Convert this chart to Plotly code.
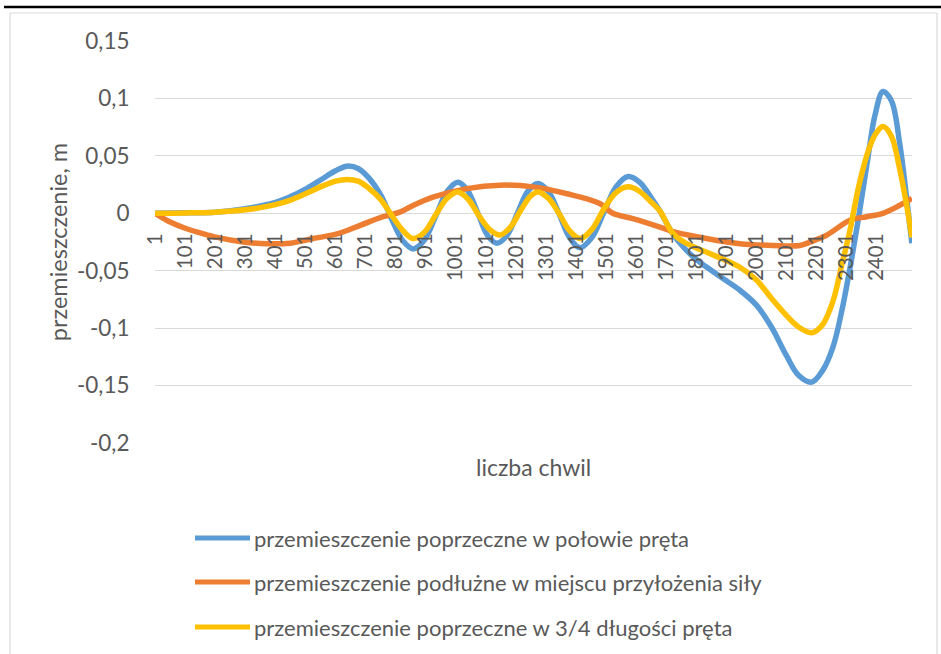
import plotly.graph_objects as go

# canvas and plot-area geometry (pixels)
W, H = 941, 654
PL, PR, PT, PB = 155, 912, 41, 443

# --- data -----------------------------------------------------------------
nazwy = [
    "przemieszczenie poprzeczne w połowie pręta",
    "przemieszczenie podłużne w miejscu przyłożenia siły",
    "przemieszczenie poprzeczne w 3/4 długości pręta",
]
kolory = ["#5B9BD5", "#ED7D31", "#FFC000"]

# transverse displacement at mid-length
chwile_polowa = [1, 101, 201, 301, 401, 451, 501, 551, 601, 639, 676, 711,
                 751, 791, 825, 859, 895, 935, 972, 1008, 1040, 1073, 1106,
                 1138, 1172, 1206, 1240, 1274, 1309, 1344, 1379, 1414, 1454,
                 1494, 1534, 1574, 1613, 1650, 1680, 1723, 1760, 1800, 1836,
                 1891, 1946, 2001, 2051, 2101, 2141, 2185, 2221, 2255, 2285,
                 2312, 2340, 2370, 2395, 2422, 2450, 2478, 2500, 2518]
polowa = [0.0, 0.0005, 0.001, 0.004, 0.0095, 0.0145, 0.021, 0.029, 0.037,
          0.041, 0.039, 0.031, 0.016, -0.007, -0.024, -0.031, -0.024, -0.002,
          0.019, 0.027, 0.020, 0.001, -0.019, -0.026, -0.019, 0.000, 0.019,
          0.026, 0.019, 0.000, -0.021, -0.030, -0.021, 0.001, 0.023, 0.032,
          0.027, 0.014, 0.002, -0.018, -0.030, -0.040, -0.047, -0.057, -0.067,
          -0.080, -0.099, -0.124, -0.141, -0.147, -0.137, -0.117, -0.085,
          -0.048, -0.005, 0.045, 0.085, 0.106, 0.098, 0.060, 0.015, -0.026]

# longitudinal displacement at the load point
chwile_sila = [1, 51, 101, 151, 207, 294, 373, 450, 526, 606, 683, 759, 815,
               849, 925, 1038, 1148, 1258, 1371, 1480, 1523, 1590, 1680, 1723,
               1836, 1946, 2055, 2145, 2180, 2235, 2312, 2368, 2422, 2478, 2518]
sila = [0.0, -0.0076, -0.013, -0.017, -0.021, -0.025, -0.0265, -0.026,
        -0.022, -0.018, -0.0105, -0.003, 0.001, 0.0055, 0.014, 0.0215,
        0.0245, 0.023, 0.017, 0.0085, 0.0, -0.0046, -0.012, -0.016, -0.022,
        -0.0265, -0.028, -0.028, -0.025, -0.019, -0.006, -0.003, 0.0, 0.007,
        0.013]

# transverse displacement at 3/4 of the length
chwile_34 = [1, 101, 201, 301, 401, 451, 501, 551, 601, 639, 676, 711, 751,
             791, 825, 859, 895, 935, 972, 1008, 1043, 1078, 1113, 1148, 1183,
             1218, 1250, 1274, 1309, 1344, 1379, 1414, 1454, 1494, 1534, 1574,
             1613, 1650, 1680, 1723, 1760, 1800, 1836, 1891, 1946, 2001, 2051,
             2101, 2141, 2185, 2221, 2255, 2285, 2312, 2340, 2370, 2395, 2422,
             2450, 2478, 2500, 2518]
trzy_czwarte = [0.0, 0.0003, 0.001, 0.003, 0.0075, 0.0115, 0.017, 0.023,
                0.028, 0.0295, 0.028, 0.022, 0.012, -0.003, -0.015, -0.022,
                -0.017, -0.001, 0.013, 0.0186, 0.012, -0.002, -0.014, -0.019,
                -0.012, 0.003, 0.015, 0.0186, 0.013, 0.000, -0.015, -0.022,
                -0.014, 0.004, 0.018, 0.023, 0.019, 0.010, 0.002, -0.0175,
                -0.025, -0.030, -0.034, -0.040, -0.047, -0.058, -0.074, -0.089,
                -0.099, -0.104, -0.097, -0.077, -0.045, -0.015, 0.022, 0.052,
                0.068, 0.0755, 0.067, 0.038, 0.008, -0.021]

x_tick_vals = list(range(1, 2402, 100))
x_tick_text = [str(v) for v in x_tick_vals]
y_tick_vals = [0.15, 0.1, 0.05, 0.0, -0.05, -0.1, -0.15, -0.2]
y_tick_text = ["0,15", "0,1", "0,05", "0", "-0,05", "-0,1", "-0,15", "-0,2"]
y_min, y_max = -0.2, 0.15

FONT = "Lato"
TXT = "#595959"
GRID = "#D9D9D9"


def px_x(x):
    return (x - PL) / (PR - PL)


def px_y(y):
    return (PB - y) / (PB - PT)


fig = go.Figure()
serie = [(chwile_polowa, polowa), (chwile_sila, sila), (chwile_34, trzy_czwarte)]
for (xs, ys), nazwa, kolor in zip(serie, nazwy, kolory):
    fig.add_trace(go.Scatter(
        x=xs, y=ys, name=nazwa, mode="lines",
        line=dict(color=kolor, width=5.5, shape="spline", smoothing=1.0),
        showlegend=False,
    ))

shapes = []
annotations = []

# legend drawn below the plot area
leg_rows = [538, 582, 627]
for nazwa, kolor, ry in zip(nazwy, kolory, leg_rows):
    shapes.append(dict(type="line", xref="paper", yref="paper",
                       x0=px_x(195), x1=px_x(250), y0=px_y(ry), y1=px_y(ry),
                       line=dict(color=kolor, width=5)))
    annotations.append(dict(text=nazwa, xref="paper", yref="paper",
                            x=px_x(252), y=px_y(ry), xanchor="left",
                            yanchor="middle", showarrow=False,
                            font=dict(family=FONT, size=22, color=TXT)))

# x axis title
annotations.append(dict(text="liczba chwil", xref="paper", yref="paper",
                        x=px_x((PL + PR) / 2), y=px_y(467), xanchor="center",
                        yanchor="middle", showarrow=False,
                        font=dict(family=FONT, size=23, color=TXT)))

# chart frame and top rule
shapes += [
    dict(type="line", xref="paper", yref="paper", x0=px_x(10), x1=px_x(10),
         y0=px_y(13), y1=px_y(660), line=dict(color=GRID, width=1.2)),
    dict(type="line", xref="paper", yref="paper", x0=px_x(937), x1=px_x(937),
         y0=px_y(13), y1=px_y(660), line=dict(color=GRID, width=1.2)),
    dict(type="line", xref="paper", yref="paper", x0=px_x(10), x1=px_x(937),
         y0=px_y(13), y1=px_y(13), line=dict(color=GRID, width=1.2)),
    dict(type="line", xref="paper", yref="paper", x0=px_x(4), x1=px_x(941),
         y0=px_y(7), y1=px_y(7), line=dict(color="#000000", width=2.5)),
]

fig.update_layout(
    width=W, height=H,
    margin=dict(l=PL, r=W - PR, t=PT, b=H - PB, pad=0),
    paper_bgcolor="white", plot_bgcolor="white",
    shapes=shapes, annotations=annotations,
    font=dict(family=FONT, color=TXT),
    xaxis=dict(
        range=[0.5, 2518.5], anchor="free",
        position=(0 - y_min) / (y_max - y_min),
        tickmode="array", tickvals=x_tick_vals, ticktext=x_tick_text,
        tickangle=-90, ticks="outside", ticklen=11,
        tickcolor="rgba(0,0,0,0)",
        tickfont=dict(family=FONT, size=20.5, color=TXT),
        showgrid=False, zeroline=False, showline=False,
    ),
    yaxis=dict(
        range=[y_min, y_max],
        tickmode="array", tickvals=y_tick_vals, ticktext=y_tick_text,
        ticks="outside", ticklen=20, tickcolor="rgba(0,0,0,0)",
        tickfont=dict(family=FONT, size=22.5, color=TXT),
        showgrid=True, gridcolor=GRID, gridwidth=1.3,
        zeroline=False, showline=False,
        title=dict(text="przemieszczenie, m", standoff=2,
                   font=dict(family=FONT, size=23.5, color=TXT)),
    ),
)

fig.write_html("out.html")
